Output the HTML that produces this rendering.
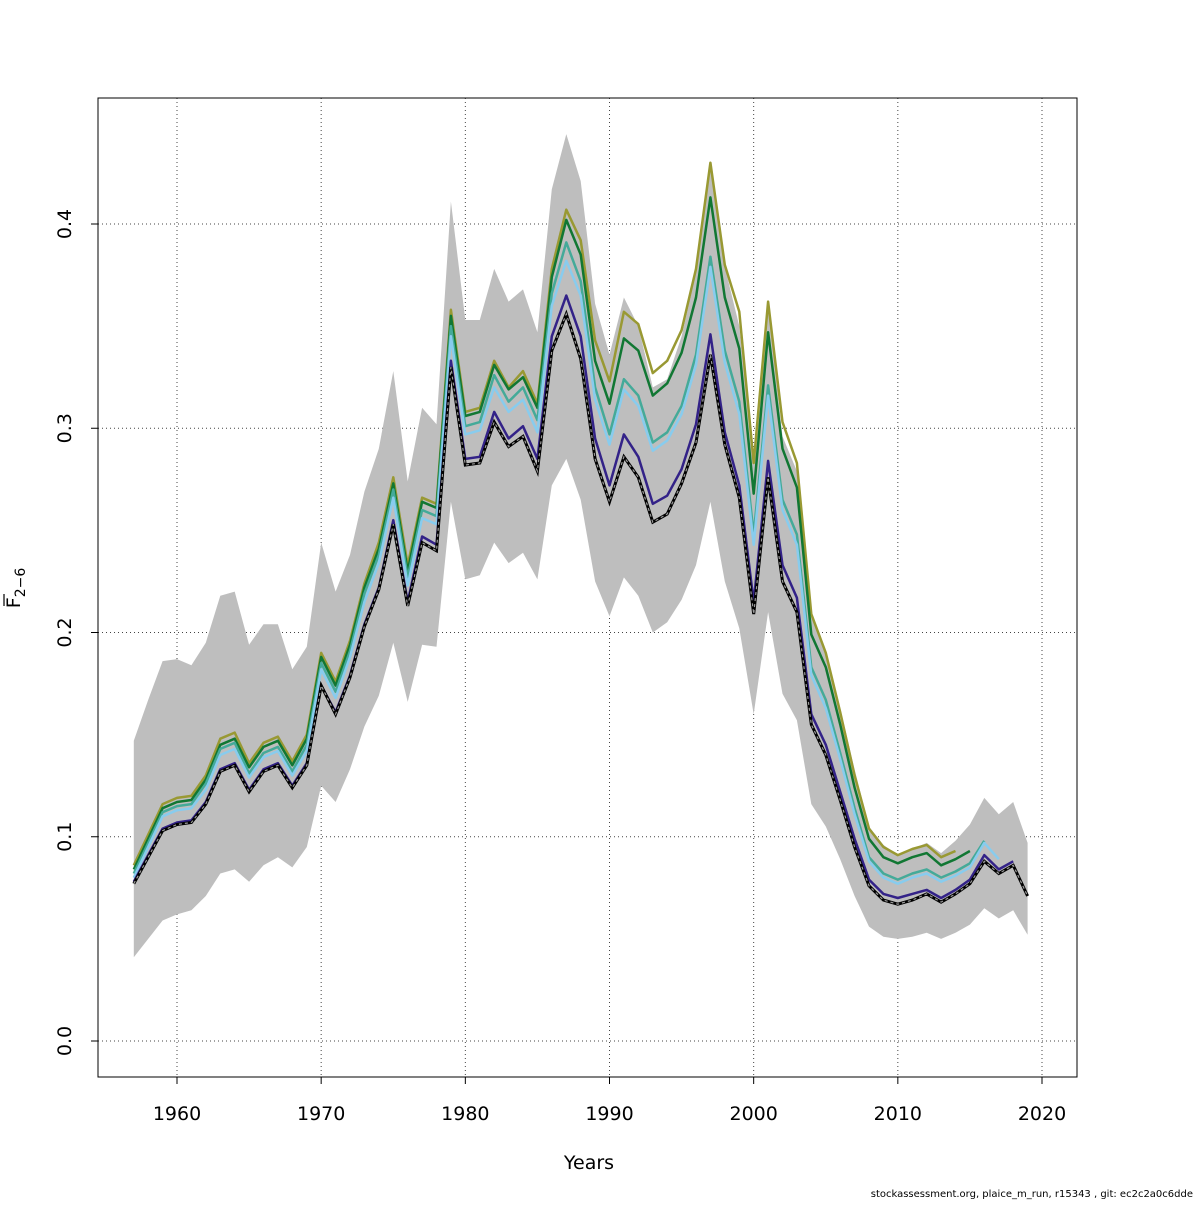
<!DOCTYPE html>
<html><head><meta charset="utf-8"><style>
body{margin:0;background:#fff;}
svg text{font-family:"DejaVu Sans","Liberation Sans",sans-serif;}
</style></head><body>
<svg id="chart" width="1200" height="1200" viewBox="0 0 1200 1200" xmlns="http://www.w3.org/2000/svg">
<rect width="1200" height="1200" fill="#fff"/>
<g id="grid"></g>
<g id="band"></g>
<g id="lines"></g>
<rect x="98" y="98" width="979" height="979" fill="none" stroke="#000" stroke-width="1"/>
<g id="axes"></g>
<text x="589" y="1169" font-size="19" text-anchor="middle">Years</text>
<g transform="translate(20,588) rotate(-90)">
<text x="0" y="0" font-size="19" text-anchor="middle">F<tspan font-size="14" dy="5">2−6</tspan></text>
<line x1="-18" y1="-16" x2="-6" y2="-16" stroke="#000" stroke-width="1.2"/>
</g>
<text x="1193" y="1197" font-size="10" text-anchor="end">stockassessment.org, plaice_m_run, r15343 , git: ec2c2a0c6dde</text>
</svg>
<script>
const startYear = 1957;
const xTicks = [1960,1970,1980,1990,2000,2010,2020];
const yTicks = [0.0,0.1,0.2,0.3,0.4];
const yTickLabels = ["0.0","0.1","0.2","0.3","0.4"];
const baseF = [0.077,0.090,0.103,0.106,0.107,0.116,0.132,0.135,0.122,0.132,0.135,0.124,0.135,0.174,0.160,0.178,0.203,0.221,0.253,0.213,0.244,0.240,0.330,0.282,0.283,0.303,0.291,0.296,0.279,0.338,0.356,0.334,0.285,0.264,0.286,0.276,0.254,0.258,0.273,0.293,0.336,0.292,0.266,0.209,0.276,0.225,0.210,0.155,0.140,0.118,0.095,0.076,0.069,0.067,0.069,0.072,0.068,0.072,0.077,0.088,0.082,0.086,0.071];
const upperF = [0.147,0.167,0.186,0.187,0.184,0.195,0.218,0.220,0.194,0.204,0.204,0.182,0.193,0.244,0.220,0.238,0.269,0.290,0.328,0.274,0.310,0.302,0.411,0.353,0.353,0.378,0.362,0.368,0.347,0.417,0.444,0.421,0.361,0.336,0.364,0.350,0.320,0.324,0.345,0.376,0.428,0.379,0.350,0.283,0.362,0.296,0.279,0.208,0.190,0.163,0.133,0.105,0.096,0.091,0.094,0.097,0.092,0.098,0.106,0.119,0.111,0.117,0.097];
const lowerF = [0.041,0.050,0.059,0.062,0.064,0.071,0.082,0.084,0.078,0.086,0.090,0.085,0.095,0.125,0.117,0.133,0.154,0.169,0.195,0.166,0.194,0.193,0.264,0.226,0.228,0.244,0.234,0.239,0.226,0.272,0.285,0.265,0.225,0.208,0.227,0.218,0.200,0.205,0.216,0.233,0.264,0.225,0.202,0.160,0.210,0.170,0.157,0.116,0.105,0.089,0.071,0.056,0.051,0.050,0.051,0.053,0.050,0.053,0.057,0.065,0.060,0.064,0.052];
const retro1 = [0.078,0.091,0.104,0.107,0.108,0.117,0.133,0.136,0.123,0.133,0.136,0.125,0.136,0.174,0.161,0.179,0.204,0.222,0.255,0.215,0.247,0.243,0.333,0.285,0.286,0.308,0.295,0.301,0.285,0.345,0.365,0.345,0.295,0.272,0.297,0.286,0.263,0.267,0.280,0.302,0.346,0.298,0.272,0.215,0.284,0.233,0.217,0.160,0.145,0.122,0.099,0.079,0.072,0.070,0.072,0.074,0.070,0.074,0.079,0.091,0.084,0.088];
const retro2 = [0.080,0.095,0.110,0.113,0.114,0.123,0.140,0.143,0.129,0.139,0.142,0.130,0.142,0.182,0.168,0.188,0.215,0.234,0.266,0.223,0.256,0.253,0.345,0.297,0.299,0.320,0.308,0.314,0.298,0.360,0.382,0.365,0.314,0.292,0.319,0.311,0.289,0.294,0.307,0.331,0.379,0.332,0.307,0.243,0.316,0.260,0.243,0.179,0.163,0.138,0.111,0.088,0.080,0.077,0.080,0.082,0.078,0.081,0.085,0.097,0.089];
const retro3 = [0.082,0.097,0.112,0.115,0.116,0.126,0.143,0.146,0.131,0.141,0.144,0.132,0.145,0.185,0.171,0.191,0.219,0.238,0.270,0.227,0.260,0.257,0.350,0.301,0.303,0.326,0.313,0.320,0.304,0.366,0.391,0.372,0.320,0.297,0.324,0.316,0.293,0.298,0.311,0.336,0.384,0.338,0.313,0.248,0.321,0.265,0.248,0.183,0.167,0.141,0.114,0.090,0.082,0.079,0.082,0.084,0.080,0.083,0.087,0.098];
const retro4 = [0.084,0.099,0.114,0.117,0.118,0.128,0.145,0.148,0.134,0.144,0.147,0.135,0.148,0.188,0.174,0.194,0.222,0.241,0.273,0.230,0.264,0.261,0.355,0.306,0.308,0.331,0.319,0.325,0.310,0.374,0.402,0.385,0.333,0.312,0.344,0.338,0.316,0.322,0.337,0.364,0.413,0.364,0.339,0.268,0.347,0.290,0.271,0.199,0.183,0.155,0.124,0.099,0.090,0.087,0.090,0.092,0.086,0.089,0.093];
const retro5 = [0.086,0.101,0.116,0.119,0.120,0.130,0.148,0.151,0.136,0.146,0.149,0.137,0.150,0.190,0.176,0.196,0.224,0.244,0.276,0.233,0.266,0.263,0.358,0.308,0.310,0.333,0.320,0.328,0.312,0.378,0.407,0.392,0.343,0.323,0.357,0.351,0.327,0.333,0.348,0.378,0.430,0.380,0.357,0.283,0.362,0.303,0.283,0.209,0.190,0.161,0.130,0.104,0.095,0.091,0.094,0.096,0.090,0.093];

const NS="http://www.w3.org/2000/svg";
const X = yr => 177 + (yr-1960)*(1042-177)/60;
const Y = v => 1041 - v*(1041-224)/0.4;
function mk(tag,parent){const e=document.createElementNS(NS,tag);document.getElementById(parent).appendChild(e);return e;}
function pts(arr){return arr.map((v,i)=>X(startYear+i).toFixed(1)+","+Y(v).toFixed(1)).join(" ");}

xTicks.forEach(t=>{
  const g=mk("line","grid");
  
  
  g.setAttribute("x1",X(t));g.setAttribute("x2",X(t));g.setAttribute("y1",98);g.setAttribute("y2",1077);
  g.setAttribute("stroke","#444");g.setAttribute("stroke-dasharray","1,3");
  const tk=mk("line","axes");
  
  
  tk.setAttribute("x1",X(t));tk.setAttribute("x2",X(t));tk.setAttribute("y1",1077);tk.setAttribute("y2",1084);tk.setAttribute("stroke","#000");
  const tx=mk("text","axes");
  
  
  tx.setAttribute("x",X(t));tx.setAttribute("y",1120);tx.setAttribute("font-size","19");tx.setAttribute("text-anchor","middle");tx.textContent=t;
});
yTicks.forEach((t,i)=>{
  const g=mk("line","grid");
  
  
  g.setAttribute("x1",98);g.setAttribute("x2",1077);g.setAttribute("y1",Y(t));g.setAttribute("y2",Y(t));
  g.setAttribute("stroke","#444");g.setAttribute("stroke-dasharray","1,3");
  const tk=mk("line","axes");
  
  
  tk.setAttribute("x1",91);tk.setAttribute("x2",98);tk.setAttribute("y1",Y(t));tk.setAttribute("y2",Y(t));tk.setAttribute("stroke","#000");
  const tx=mk("text","axes");
  
  
  tx.setAttribute("transform","translate(71,"+Y(t)+") rotate(-90)");tx.setAttribute("font-size","19");tx.setAttribute("text-anchor","middle");tx.textContent=yTickLabels[i];
});

const poly=mk("polygon","band");


poly.setAttribute("points",pts(upperF)+" "+lowerF.map((v,i)=>X(startYear+i).toFixed(1)+","+Y(v).toFixed(1)).reverse().join(" "));
poly.setAttribute("fill","#bebebe");

const series=[[retro5,"#999933","retro-line-2014"],[retro4,"#117733","retro-line-2015"],[retro3,"#44AA99","retro-line-2016"],[retro2,"#88CCEE","retro-line-2017"],[retro1,"#332288","retro-line-2018"]];
series.forEach(s=>{
  const l=mk("polyline","lines");
  
  
  l.setAttribute("points",pts(s[0]));l.setAttribute("fill","none");l.setAttribute("stroke",s[1]);l.setAttribute("stroke-width","2.5");l.setAttribute("stroke-linejoin","round");
});
const b=mk("polyline","lines");


b.setAttribute("points",pts(baseF));b.setAttribute("fill","none");b.setAttribute("stroke","#000");b.setAttribute("stroke-width","3");
const bd=mk("polyline","lines");


bd.setAttribute("points",pts(baseF));bd.setAttribute("fill","none");bd.setAttribute("stroke","#9a9a9a");bd.setAttribute("stroke-width","1.2");bd.setAttribute("stroke-dasharray","3,3");
</script>
</body></html>
